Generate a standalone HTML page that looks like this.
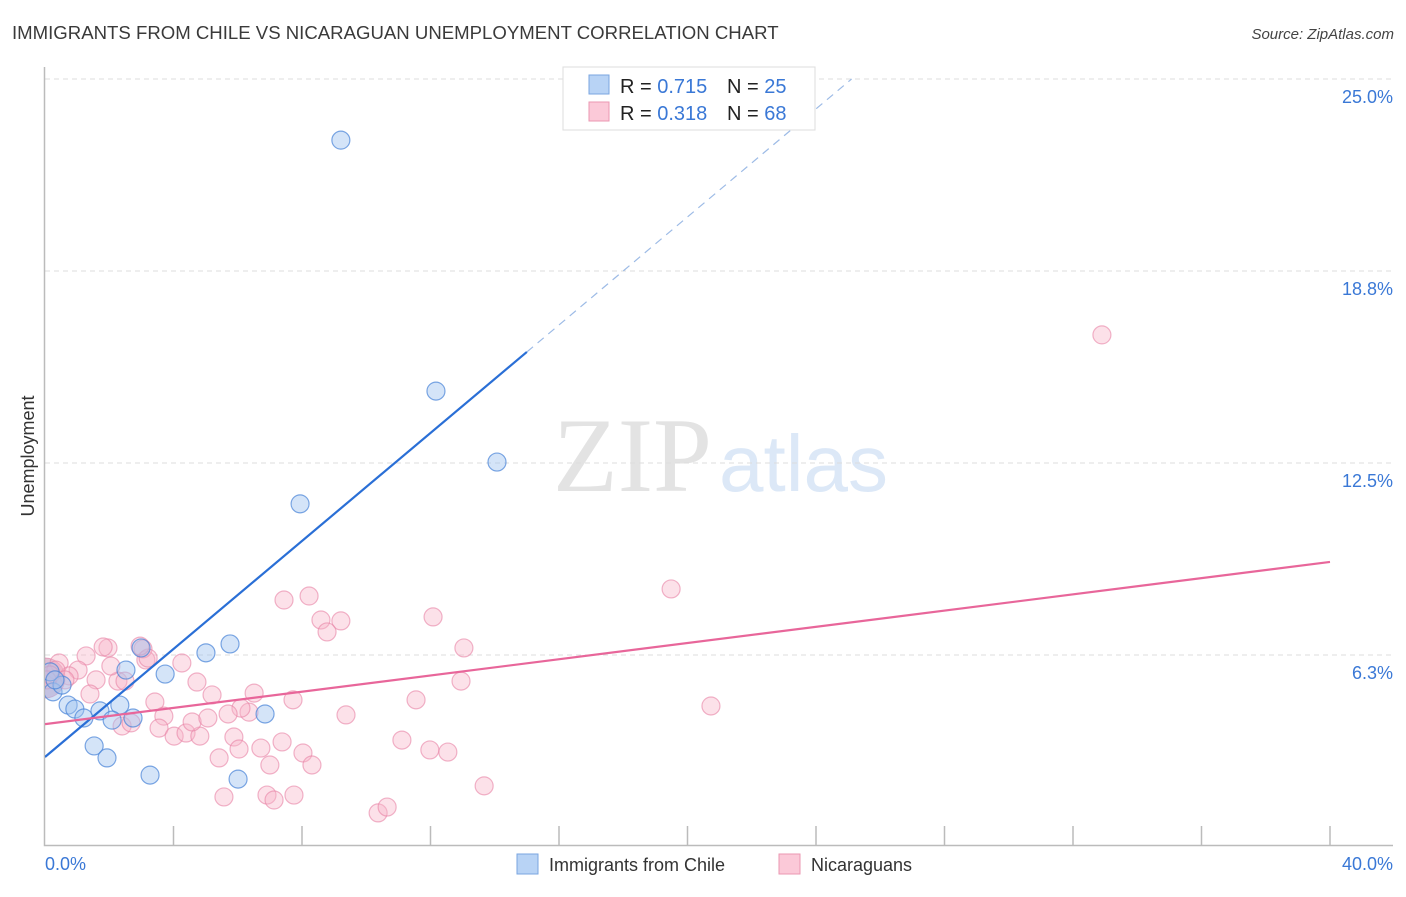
<!DOCTYPE html>
<html><head><meta charset="utf-8"><style>
body{margin:0;background:#fff;font-family:"Liberation Sans",sans-serif}
</style></head><body>
<svg id="chart" width="1406" height="892" xmlns="http://www.w3.org/2000/svg">
<defs><clipPath id="plot"><rect x="45" y="60" width="1360" height="786"/></clipPath></defs>
<text x="12" y="39" font-size="18.6" fill="#3a3a3a">IMMIGRANTS FROM CHILE VS NICARAGUAN UNEMPLOYMENT CORRELATION CHART</text>
<text x="1394" y="39" font-size="15" fill="#444" font-style="italic" text-anchor="end">Source: ZipAtlas.com</text>
<g>
<text x="553" y="491" font-family="Liberation Serif,serif" font-size="106" fill="#e3e3e3">ZIP</text>
<text x="719" y="491" font-size="80" fill="#dce8f7">atlas</text>
</g>
<g id="grid"></g>
<g id="axes"></g>
<g id="marks" clip-path="url(#plot)"></g>
<g>
<rect x="563" y="67" width="252" height="63" fill="#fff" stroke="#ddd"/>
<rect x="589" y="75" width="20" height="19" fill="#b8d3f5" stroke="#7aa6e0"/>
<rect x="589" y="102" width="20" height="19" fill="#fbc9d8" stroke="#eb97b2"/>
<text x="620" y="93" font-size="20" fill="#222">R = <tspan fill="#3a78d6">0.715</tspan></text>
<text x="727" y="93" font-size="20" fill="#222">N = <tspan fill="#3a78d6">25</tspan></text>
<text x="620" y="120" font-size="20" fill="#222">R = <tspan fill="#3a78d6">0.318</tspan></text>
<text x="727" y="120" font-size="20" fill="#222">N = <tspan fill="#3a78d6">68</tspan></text>
</g>
<text transform="translate(34,456) rotate(-90)" font-size="18" fill="#333" text-anchor="middle">Unemployment</text>
<g>
<rect x="517" y="854" width="21" height="20" fill="#b8d3f5" stroke="#7aa6e0"/>
<text x="549" y="871" font-size="18" fill="#333">Immigrants from Chile</text>
<rect x="779" y="854" width="21" height="20" fill="#fbc9d8" stroke="#eb97b2"/>
<text x="811" y="871" font-size="18" fill="#333">Nicaraguans</text>
</g>
</svg>
<script>
const yTicks=[6.25,12.5,18.75,25];
const yTickLabels=["6.3%","12.5%","18.8%","25.0%"];
const xTickLabels=["0.0%","40.0%"];
const chileX=[9.21,12.17,14.07,7.94,5.76,5.01,3.74,2.52,2.99,0.25,0.53,0.72,0.93,1.21,1.71,2.33,2.09,2.74,6.85,1.53,1.93,3.27,6.01,0.16,0.31];
const chileY=[23.01,14.84,12.53,11.17,6.61,6.32,5.63,5.76,6.48,5.05,5.27,4.62,4.49,4.20,4.43,4.62,4.13,4.20,4.33,3.29,2.90,2.34,2.21,5.70,5.44];
const nicX=[32.90,19.49,20.73,12.08,13.04,12.95,11.55,11.11,11.98,12.54,13.67,10.37,10.65,8.22,7.44,8.59,9.21,8.78,9.37,7.72,6.51,6.35,6.10,5.70,5.20,4.73,4.26,3.14,3.05,1.96,1.81,1.28,0.44,1.03,0.75,1.59,1.40,2.27,2.49,2.05,3.42,3.70,3.55,2.40,2.68,4.02,4.39,4.82,4.58,5.07,5.88,6.04,5.42,6.72,7.38,8.03,7.00,8.31,5.57,6.91,7.13,7.75,0.34,0.16,0.06,0.62,3.21,2.96];
const nicY=[16.67,8.40,4.59,7.49,6.48,5.40,4.79,3.48,3.16,3.09,1.99,1.11,1.30,8.17,8.04,7.39,7.36,7.00,4.30,4.79,5.01,4.39,4.52,4.33,4.95,5.37,5.99,6.09,6.45,6.48,6.51,6.22,5.99,5.76,5.57,5.44,4.98,5.40,5.40,5.89,4.72,4.26,3.87,3.94,4.04,3.61,3.71,3.61,4.07,4.20,3.58,3.19,2.90,3.22,3.42,3.06,2.67,2.67,1.63,1.69,1.53,1.69,5.76,5.60,5.44,5.44,6.15,6.54];
const chileTrend=[2.93,0.879];
const nicTrend=[4.00,0.132];
const X=v=>45+v*32.125, Y=v=>847-v*30.72;
const NS="http://www.w3.org/2000/svg";
function mk(p,tag,a){const e=document.createElementNS(NS,tag);for(const k in a)e.setAttribute(k,a[k]);document.getElementById(p).appendChild(e);return e;}
yTicks.forEach((t,i)=>{
 const g=mk('grid','line',{x1:45,x2:1393,y1:Y(t),y2:Y(t),stroke:'#ddd','stroke-dasharray':'5,4'});
 
 
 const l=mk('axes','text',{x:1393,y:Y(t)+24,'font-size':18,fill:'#3a78d6','text-anchor':'end'});
 l.textContent=yTickLabels[i];
 
 
});
const ax=mk('axes','path',{d:'M44.5 67 V845.5 H1393',stroke:'#bbb',fill:'none','stroke-width':1.5});


for(let i=1;i<=10;i++){
 const t=mk('axes','line',{x1:X(i*4),x2:X(i*4),y1:826,y2:845,stroke:'#bbb','stroke-width':1.5});
 
 
}
[[0,'start',X(0)],[1,'end',1393]].forEach(([i,an,x])=>{
 const l=mk('axes','text',{x:x,y:870,'font-size':18,fill:'#3a78d6','text-anchor':an});
 l.textContent=xTickLabels[i];
 
 
});
const big=mk('marks','circle',{cx:X(0),cy:Y(5.5),r:20,fill:'rgba(200,140,175,0.55)',stroke:'rgba(220,120,160,0.6)'});


nicX.forEach((x,i)=>{
 const c=mk('marks','circle',{cx:X(x),cy:Y(nicY[i]),r:9,fill:'rgba(248,180,200,0.4)',stroke:'rgba(232,130,165,0.6)','stroke-width':1.2});
 
 
});
chileX.forEach((x,i)=>{
 const c=mk('marks','circle',{cx:X(x),cy:Y(chileY[i]),r:9,fill:'rgba(160,195,240,0.45)',stroke:'rgba(70,130,215,0.7)','stroke-width':1.2});
 
 
});
const ys=v=>chileTrend[0]+chileTrend[1]*v;
const t1=mk('marks','line',{x1:X(0),y1:Y(ys(0)),x2:X(15),y2:Y(ys(15)),stroke:'#2a6fd6','stroke-width':2.2});


const xe=(25-chileTrend[0])/chileTrend[1];
const t2=mk('marks','line',{x1:X(15),y1:Y(ys(15)),x2:X(xe),y2:Y(25),stroke:'#9dbbe6','stroke-width':1.2,'stroke-dasharray':'8,6'});


const t3=mk('marks','line',{x1:X(0),y1:Y(nicTrend[0]),x2:X(40),y2:Y(nicTrend[0]+nicTrend[1]*40),stroke:'#e8669a','stroke-width':2.2});


</script>
</body></html>
